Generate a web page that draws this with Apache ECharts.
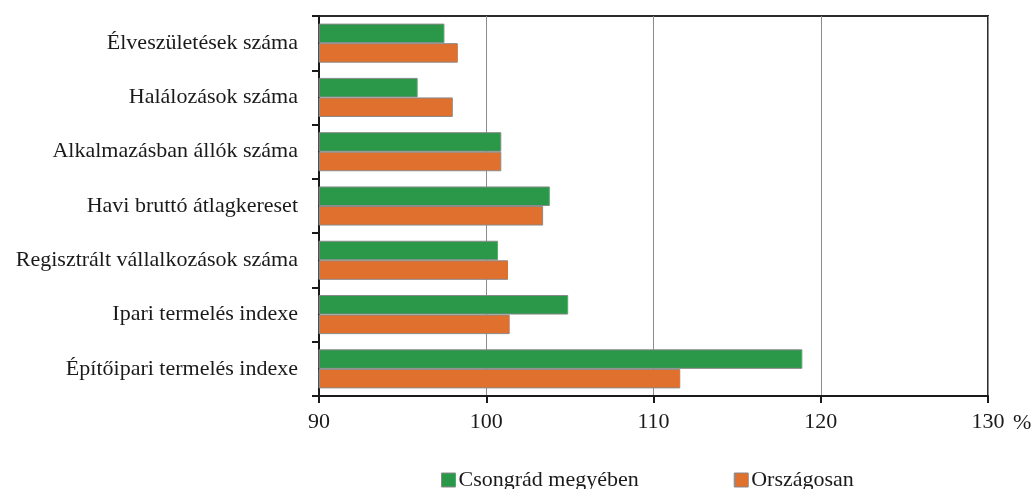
<!DOCTYPE html>
<html>
<head>
<meta charset="utf-8">
<script src="https://cdn.jsdelivr.net/npm/echarts@6/dist/echarts.min.js"></script>
<style>
html,body{margin:0;padding:0;background:#fff;}
#chart{width:1035px;height:489px;}
</style>
</head>
<body>
<div id="chart"></div>
<script>
const categories = [
  "Élveszületések száma",
  "Halálozások száma",
  "Alkalmazásban állók száma",
  "Havi bruttó átlagkereset",
  "Regisztrált vállalkozások száma",
  "Ipari termelés indexe",
  "Építőipari termelés indexe"
];
const seriesNames = ["Csongrád megyében", "Országosan"];
const csongrad = [97.5, 95.9, 100.9, 103.8, 100.7, 104.9, 118.9];
const orszagos = [98.3, 98.0, 100.9, 103.4, 101.3, 101.4, 111.6];
const xMin = 90, xMax = 130, xStep = 10;

const FONT = "Liberation Serif";
const chart = echarts.init(document.getElementById('chart'), null, {renderer: 'canvas'});
chart.setOption({
  animation: false,
  backgroundColor: '#ffffff',
  textStyle: {fontFamily: FONT},
  grid: {
    left: 319, right: 47, top: 16, bottom: 93,
    show: true, borderColor: '#2b2b2b', borderWidth: 2, backgroundColor: 'transparent',
    containLabel: false
  },
  legend: {
    data: seriesNames,
    left: 436, top: 464,
    itemWidth: 14, itemHeight: 14, itemGap: 95,
    icon: 'rect',
    itemStyle: {borderColor: '#8a8a8a', borderWidth: 1},
    textStyle: {fontFamily: FONT, fontSize: 22, color: '#1a1a1a', padding: [0,0,0,-2]}
  },
  xAxis: {
    type: 'value', min: xMin, max: xMax, interval: xStep,
    name: '%', nameLocation: 'end', nameGap: 25,
    nameTextStyle: {fontFamily: FONT, fontSize: 22, color: '#1a1a1a', verticalAlign: 'top', padding: [16,0,0,0]},
    axisLine: {show: true, lineStyle: {color: '#1a1a1a', width: 2}},
    axisTick: {show: true, inside: false, length: 7, lineStyle: {color: '#1a1a1a', width: 2}},
    axisLabel: {fontFamily: FONT, fontSize: 22, color: '#1a1a1a', margin: 15},
    splitLine: {show: true, lineStyle: {color: '#8c8c8c', width: 1}}
  },
  yAxis: {
    type: 'category', data: categories, inverse: true,
    axisLine: {show: true, lineStyle: {color: '#1a1a1a', width: 2}},
    axisTick: {show: true, inside: false, length: 7, lineStyle: {color: '#1a1a1a', width: 2}},
    axisLabel: {fontFamily: FONT, fontSize: 22, color: '#1a1a1a', margin: 21},
    splitLine: {show: false}
  },
  series: [
    {
      name: seriesNames[0], type: 'bar', data: csongrad,
      barGap: '0%', barCategoryGap: '28%',
      itemStyle: {color: '#2a9848', borderColor: '#8a8a8a', borderWidth: 1}
    },
    {
      name: seriesNames[1], type: 'bar', data: orszagos,
      barGap: '0%', barCategoryGap: '28%',
      itemStyle: {color: '#df702d', borderColor: '#8a8a8a', borderWidth: 1}
    }
  ]
});
</script>
</body>
</html>
